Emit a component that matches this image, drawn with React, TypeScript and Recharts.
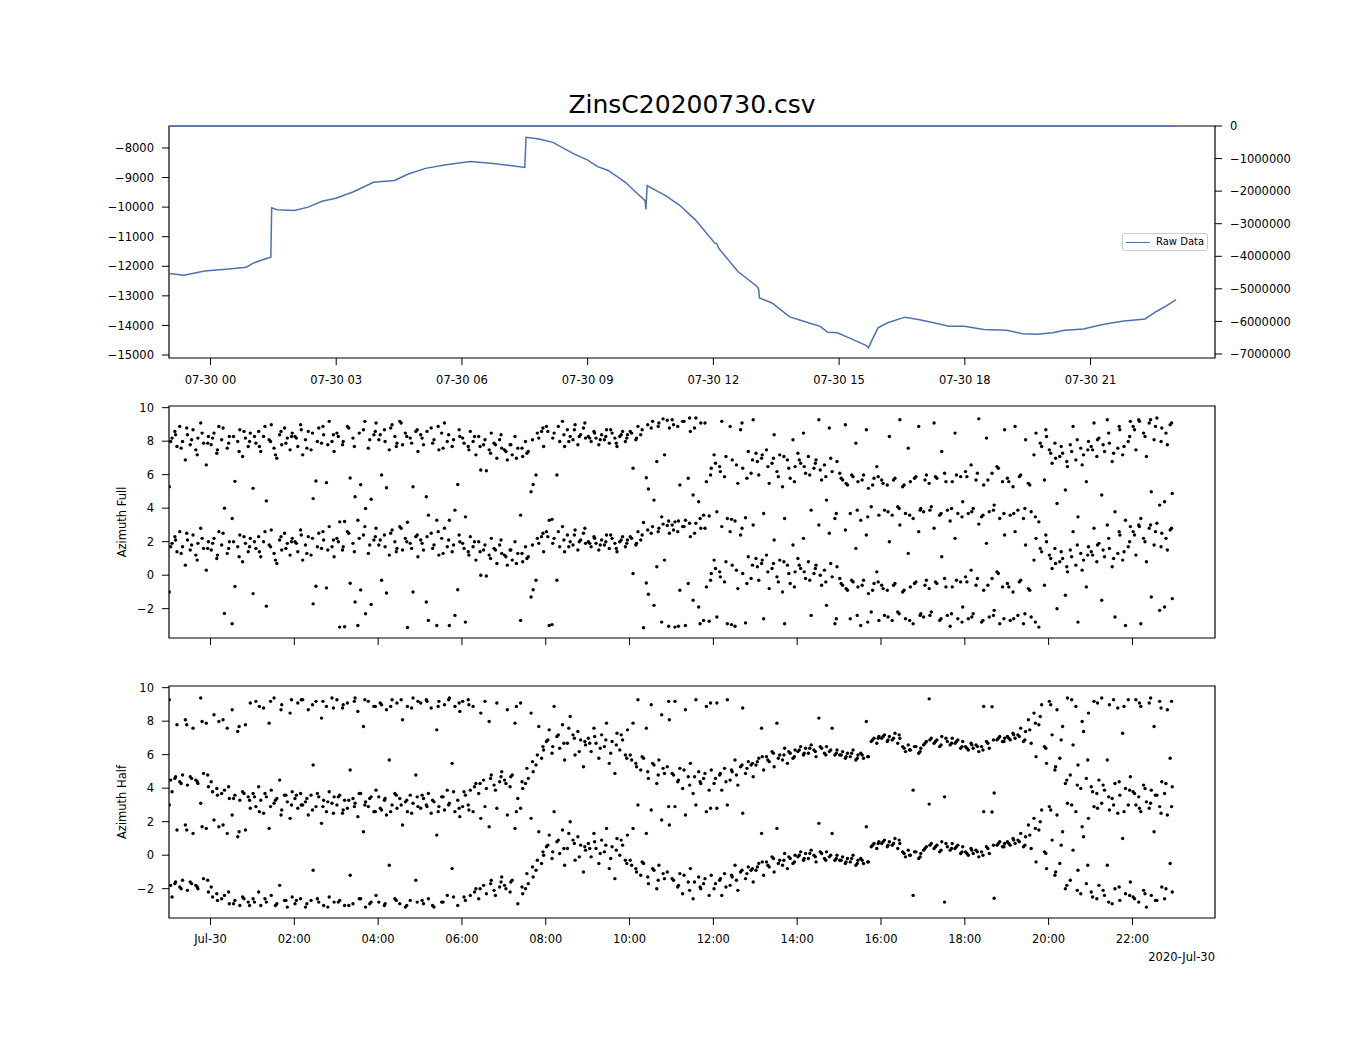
import { ComposedChart, ScatterChart, Line, Scatter, XAxis, YAxis, ReferenceArea } from 'recharts'

const FONT = '"DejaVu Sans", Verdana, sans-serif'
const BLUE = '#4c72b0'
const MINUS = '\u2212'

// top panel, hours relative to 07-30 00:00
const rawHours = [
  -0.99, -0.63, -0.14, 0.44, 0.85, 1.01, 1.26, 1.44, 1.46, 1.59, 2.0, 2.33, 2.66, 2.99, 3.4, 3.89,
  4.39, 4.72, 5.13, 5.62, 6.2, 6.69, 7.19, 7.5, 7.53, 7.84, 8.17, 8.67, 8.99, 9.24, 9.49, 9.9,
  10.19, 10.37, 10.39, 10.42, 10.56, 10.85, 11.19, 11.57, 12.03, 12.08, 12.12, 12.58, 13.04, 13.08, 13.1, 13.4,
  13.82, 14.23, 14.55, 14.73, 14.96, 15.24, 15.65, 15.7, 15.79, 15.93, 16.16, 16.57, 16.89, 17.26, 17.62, 17.99,
  18.45, 19.0, 19.37, 19.73, 20.1, 20.38, 20.83, 21.29, 21.75, 22.3, 22.58, 22.8, 23.04,
]
const rawValues = [
  -12240, -12300, -12160, -12095, -12030, -11900, -11770, -11690, -10020, -10090, -10110, -10000, -9800, -9700, -9490, -9160,
  -9100, -8880, -8690, -8570, -8460, -8520, -8600, -8660, -7640, -7700, -7810, -8200, -8400, -8630, -8760, -9160,
  -9550, -9780, -10080, -9270, -9380, -9600, -9930, -10430, -11210, -11230, -11380, -12170, -12680, -12780, -13070, -13240,
  -13710, -13890, -14030, -14230, -14250, -14420, -14680, -14760, -14480, -14080, -13910, -13720, -13800, -13910, -14030, -14030,
  -14140, -14160, -14280, -14300, -14250, -14160, -14120, -13970, -13860, -13780, -13520, -13350, -13130,
]
// second trace, on the right axis
const secondHours = [-0.99, 23.04]
const secondValues = [0, 0]

// azimuth samples: one row per hour starting 23:00 on 07-29.
// minutes within the hour; the last eight are the in-between readings
const firstHour = -1
const sampleMinutes = [1, 5, 9, 12, 16, 20, 24, 27, 31, 35, 39, 42, 46, 50, 54, 57, 3, 10, 18, 26, 33, 41, 48, 56]

const fullAz = [
  [-1.0, 1.9, 2.3, 1.4, 2.6, 1.7, 0.6, 2.1, 1.5, 2.4, 1.2, 1.9, 2.8, 1.6, 0.3, 2.0, 1.7, 2.1, 1.3, 2.5, 1.8, 0.9, 2.2, 1.6],
  [1.5, 2.2, 1.0, 2.6, 1.8, -2.28, 1.3, 2.0, -2.9, -0.68, 1.7, 2.4, 0.8, 1.9, 1.4, 2.2, 1.9, 1.2, 2.5, 1.6, 2.0, 1.1, 2.3, 1.7],
  [-1.1, 1.6, 2.3, 1.1, 2.0, -1.85, 1.8, 2.7, 1.3, 0.7, 2.1, 1.5, 2.5, 1.9, 1.2, 2.2, 2.0, 1.4, 2.6, 1.7, 0.9, 2.3, 1.6, 2.0],
  [2.0, 1.4, 2.7, 0.9, 1.8, 2.3, 1.2, -1.71, -0.66, 2.5, 1.6, 2.1, -0.76, 2.9, 1.7, 1.1, 1.9, 2.4, 1.3, 2.2, 1.7, 2.6, 1.5, 2.1],
  [2.2, -3.1, 1.5, -3.08, 2.6, -0.48, 1.9, -1.6, -3.0, -0.88, 2.4, -2.3, 1.3, -1.75, 2.1, 2.8, 2.0, 1.7, 2.5, 1.4, 2.2, 2.9, 1.8, 2.3],
  [1.8, -0.3, 2.4, -1.06, 1.2, 2.7, 2.0, 1.6, 2.9, 1.5, 2.2, -3.12, 1.9, -1.0, 2.3, 1.1, 2.1, 1.7, 2.5, 1.4, 2.8, 2.0, 1.6, 2.4],
  [2.1, 1.5, -1.6, -2.7, 2.5, 1.8, -3.0, 1.2, 2.2, 2.8, 1.7, -3.0, 1.4, -2.4, -0.87, 2.0, 1.9, 2.3, 1.6, 2.6, 1.3, 2.1, 1.8, 2.4],
  [1.9, -2.8, 1.4, 2.3, 1.7, 0.9, 2.0, 0.0, 1.5, -0.05, 1.2, 2.2, 1.6, 0.7, 1.8, 1.3, 1.6, 1.2, 2.0, 1.4, 1.8, 1.0, 1.5, 2.1],
  [1.2, 0.6, 1.5, 0.9, 2.0, 1.3, -2.7, 0.8, 1.7, 1.1, -1.3, -0.87, -0.3, 1.9, 2.3, 1.4, 1.1, 1.5, 0.7, 1.3, 1.0, 1.8, 2.2, 2.5],
  [2.6, -3.0, -2.95, 2.2, -0.3, 1.7, 2.9, 1.4, 2.4, 2.0, 1.8, 2.7, 1.5, 2.1, 2.5, 1.9, 2.3, 1.9, 2.6, 2.1, 1.7, 2.4, 2.0, 2.8],
  [2.0, 1.7, 2.3, 1.9, 1.5, 2.1, 1.8, 2.4, 1.6, 2.2, 1.9, 1.4, 2.0, 2.3, 1.7, 2.1, 1.9, 2.2, 1.8, 2.0, 2.4, 1.6, 2.1, 1.9],
  [2.3, 0.1, 1.8, 2.6, 2.1, -3.14, -0.47, -1.14, 2.5, -1.8, 0.5, 2.8, -2.8, 0.9, 2.97, 2.5, 2.2, 1.9, 2.4, 2.7, 2.9, 2.6, 3.05, -3.05],
  [3.0, -3.1, 2.6, -0.9, 2.9, -3.0, -0.5, 2.3, -1.5, 3.1, -1.9, 2.8, -2.7, -0.7, -2.75, 0.1, 2.7, -3.05, 2.9, 3.1, 2.5, -2.9, 2.8, -0.3],
  [0.9, -2.5, 0.2, 2.9, -0.4, -2.9, 2.6, 0.6, -3.05, -0.8, 2.4, 0.1, -2.85, 1.1, -0.2, 3.0, 0.4, -0.1, 0.8, -2.95, 0.3, 2.8, -0.5, 0.6],
  [1.0, -0.3, 0.7, -2.6, 1.2, -0.8, 0.4, 2.1, -0.1, 0.9, -1.0, -2.9, 0.6, -0.5, 1.8, 0.2, 0.5, 0.9, 0.2, 0.7, -0.4, 0.8, 0.1, -0.7],
  [1.0, 0.4, 2.2, -0.2, 0.8, -2.4, 0.1, 0.6, 3.0, -0.6, 0.3, -1.8, 2.5, -0.1, -2.9, 0.5, 0.6, 0.2, -0.3, 0.4, 0.0, -0.4, 0.7, -2.6],
  [-0.2, -0.6, 2.7, -0.9, -2.6, -0.4, 1.6, -0.7, -3.0, -0.3, 2.4, -1.1, -2.2, -0.5, 0.2, -2.7, -0.5, -0.8, -0.3, -2.4, -0.6, -2.8, -0.9, -0.4],
  [-0.6, -2.4, -0.9, 2.0, -2.7, -0.5, -2.2, 3.0, -1.0, -2.6, 1.3, -0.7, -2.9, -0.4, 2.6, -2.3, -0.8, -2.5, -0.6, -2.3, -0.9, -2.7, -0.5, -2.4],
  [-2.5, -0.3, -0.8, -2.2, 2.8, -0.5, -2.7, 1.1, -0.2, -2.4, -3.05, -0.7, 2.2, -2.6, -0.4, -1.9, -0.6, -2.4, -0.4, -2.6, -0.7, -2.3, -0.3, -2.8],
  [-0.1, -2.6, 0.3, -2.3, -0.6, 3.05, -2.8, -0.9, 1.9, -2.5, -0.2, -2.1, 0.2, -2.9, -0.7, 2.4, -0.4, -2.5, -0.2, -2.7, -0.6, -2.4, 0.1, -2.6],
  [-0.5, -2.7, -1.0, 2.6, -2.4, -0.3, -2.9, 1.8, -0.8, -2.5, 0.9, 2.2, -3.1, 1.4, -0.6, 2.0, -0.7, -2.6, -0.4, -2.3, -0.9, -2.8, 1.6, 2.4],
  [1.2, 0.4, 1.6, -2.0, 0.8, 1.0, -1.2, 0.2, 1.5, 2.6, 0.6, -2.8, 1.3, 0.9, -0.7, 1.7, 1.0, 0.7, 1.4, 0.5, 1.1, 1.8, 0.3, 1.2],
  [1.4, 2.8, 0.8, 1.9, -1.5, 1.1, 3.0, 1.6, 0.5, -2.5, 1.3, 2.4, 0.9, -3.0, 1.7, 2.9, 1.2, 1.8, 1.5, 2.2, 1.0, 2.6, 1.4, 2.0],
  [2.6, 1.2, 3.0, -2.9, 2.2, 0.8, 2.8, -1.3, 1.8, 3.1, -2.1, 2.5, -1.9, 1.5, 2.7, -1.4, 2.4, 2.9, 2.0, 3.0, 2.6, 1.7, 2.2, 2.8],
]

const halfAz = [
  [3.0, -2.5, -1.7, 1.5, -1.9, -1.5, 1.8, -2.1, -1.6, 1.3, -1.8, -2.0, 3.1, -1.4, 1.6, -2.2, -1.8, -1.6, -2.0, 1.5, -1.7, -1.9, 1.7, -1.5],
  [-1.9, 2.1, -2.3, 1.7, -2.6, -2.4, 1.3, -2.9, 2.4, -2.7, 1.1, -3.0, -2.5, 1.5, -2.8, 2.8, -2.5, -2.7, 1.8, -2.2, -2.9, 1.4, -2.6, -3.0],
  [-2.6, 2.9, -2.2, -3.0, 2.5, -2.8, 1.6, -2.4, 3.1, -2.9, -1.8, 2.7, -2.7, -3.1, 2.2, -2.5, -2.8, 2.6, -2.6, 2.9, -3.0, 2.4, -2.7, 3.0],
  [-2.9, 2.8, -2.6, 3.0, -3.1, 2.4, -2.7, -0.9, 2.9, -2.8, 1.9, -3.0, 2.6, -2.5, 3.1, -2.8, -2.7, 3.0, -2.9, 2.7, -2.6, 2.9, -3.1, 2.5],
  [3.0, -2.7, 2.5, -3.0, 2.8, -1.2, -2.9, 3.1, 2.3, -2.6, 1.4, -3.1, 2.9, -2.8, 2.6, -2.4, -2.8, 2.7, -3.0, 2.9, -2.6, 3.0, -2.9, 2.6],
  [-2.8, 2.7, -3.0, 2.4, -0.6, 3.0, -2.6, 2.8, -2.9, 1.8, -3.1, 2.6, -2.7, 3.1, -1.5, 2.9, 2.8, -2.9, 2.6, -2.7, 3.0, -3.0, 2.5, -2.8],
  [2.8, -2.9, 3.0, -2.6, 2.5, -3.1, 1.2, 2.9, -2.8, 2.7, -2.4, 3.1, -0.8, 2.6, -3.0, 2.3, -2.7, 2.9, -3.0, 2.6, -2.8, 3.0, -2.5, 2.8],
  [2.9, -2.7, 3.0, -2.4, 2.6, -2.0, -2.6, 2.2, -1.8, -2.3, 1.7, -1.5, -2.1, 2.8, -1.9, -1.3, -2.5, 2.7, -2.2, -2.0, 2.9, -1.7, -2.4, -1.6],
  [-1.8, 2.4, -2.2, -1.5, 1.6, -2.9, 2.8, -2.3, -2.0, -1.7, 2.2, -1.3, -0.9, 1.4, -0.5, 0.0, -2.0, -1.6, 2.6, -1.9, -1.1, -0.7, -0.3, 0.2],
  [0.5, 1.2, -0.2, 2.6, 0.8, 0.1, 1.5, -0.6, 0.4, 2.0, 0.9, -0.3, 1.1, 0.6, -1.0, 0.3, 0.6, 0.2, 0.9, 0.4, 1.3, 0.7, -0.1, 0.5],
  [0.7, -0.1, 1.3, 0.4, -0.5, 0.9, 0.2, 1.6, -0.8, 0.5, -1.4, 1.0, 0.0, 0.6, -0.3, 1.2, 0.4, 0.8, 0.1, 0.6, -0.2, 0.3, 0.9, -0.5],
  [-0.3, 1.6, -0.8, 3.0, -1.2, -0.5, 1.3, -1.7, 2.7, -0.9, -2.0, -0.6, 2.1, -1.4, -1.0, 1.8, -0.6, -1.0, -0.4, -1.3, -0.8, -1.5, -1.1, 2.9],
  [-1.4, 2.9, -1.9, -1.1, -2.3, 2.4, -1.6, -0.8, -2.6, 3.0, -1.3, -2.0, -1.7, 2.6, -2.4, -1.2, -1.5, -1.8, -1.2, -2.1, -1.6, -1.9, -1.4, 2.8],
  [-2.0, 2.8, -1.5, -2.4, -1.1, 3.0, -1.8, -1.3, -0.6, -2.1, -1.0, 2.5, -1.4, -0.7, -0.9, -1.6, -1.7, -1.4, -1.9, -1.2, -1.5, -0.9, -1.1, -0.8],
  [-0.9, -0.5, 1.3, -1.2, -0.4, -0.7, -0.1, -1.0, 1.6, -0.3, -0.6, 0.1, -0.8, -0.2, -0.5, 0.0, -0.7, -0.4, -0.6, -0.2, -0.5, -0.3, -0.1, -0.4],
  [-0.1, 0.2, -0.3, 0.1, -0.2, 0.3, 0.0, -0.4, 1.9, 0.1, -0.2, 0.2, -0.1, 1.3, -0.3, 0.0, 0.0, -0.2, 0.1, -0.1, 0.2, -0.3, 0.0, -0.2],
  [-0.3, -0.1, -0.5, -0.2, -0.4, 0.0, -0.6, -0.3, -0.2, -0.5, 1.7, -0.4, 0.5, 0.7, 0.4, 0.8, -0.3, -0.4, -0.2, -0.5, -0.3, -0.4, 0.6, 0.7],
  [0.7, 0.9, 0.5, 0.8, 0.6, 1.0, 0.4, 0.7, 0.2, -0.1, 0.3, 0.0, -2.4, 0.2, -0.2, 0.1, 0.8, 0.6, 0.7, 0.9, 0.1, 0.0, 0.2, -0.1],
  [0.3, 0.5, 3.05, 0.7, 0.4, 0.6, 0.2, 0.8, -2.8, 0.5, 0.3, 0.7, 0.4, 0.6, 0.1, 0.5, 0.4, 0.6, 0.5, 0.3, 0.7, 0.4, 0.5, 0.2],
  [0.2, 0.0, 0.4, 0.1, 0.3, -0.1, 0.2, 2.6, 0.5, 0.1, 2.58, -2.57, 0.6, 0.8, 0.5, 0.7, 0.1, 0.3, 0.2, 0.0, 0.4, 0.6, 0.7, 0.5],
  [0.8, 0.6, 1.0, 0.7, 0.9, 1.3, 0.5, 1.1, 1.8, 0.4, 2.2, -0.4, 1.5, 2.7, 0.2, -0.8, 0.7, 0.9, 0.8, 0.6, 1.2, 1.6, 2.0, 0.1],
  [2.9, 0.9, -1.2, 2.4, -0.5, 1.4, -2.0, 3.1, -1.5, 0.3, 2.6, -0.9, -2.3, 1.1, -1.7, 2.2, 2.7, -1.0, 0.6, -1.8, 3.0, -2.1, 1.7, -0.6],
  [-2.2, 2.9, -2.6, -1.8, 3.1, -2.4, -0.6, 2.7, -2.9, -2.0, 2.5, -2.7, 1.0, -2.3, 3.0, -1.6, -2.5, 2.8, -2.1, -2.8, 3.0, -1.9, 2.6, -2.4],
  [-2.5, 3.0, -2.8, 2.6, -2.1, -3.1, 2.8, -2.4, 1.4, -2.7, 2.9, -1.9, -2.6, 2.4, -0.5, -2.2, -2.6, 2.8, -2.3, 3.1, -2.7, 2.5, -2.0, 2.9],
]

const rawTicks = [-15000, -14000, -13000, -12000, -11000, -10000, -9000, -8000]
const secondTicks = [0, -1000000, -2000000, -3000000, -4000000, -5000000, -6000000, -7000000]
const rawHourTicks = [0, 3, 6, 9, 12, 15, 18, 21]
const azHourTicks = [0, 2, 4, 6, 8, 10, 12, 14, 16, 18, 20, 22]
const azTicks = [-2, 0, 2, 4, 6, 8, 10]

const X_DOMAIN: [number, number] = [-0.99, 23.97]
const RAW_DOMAIN: [number, number] = [-15101, -7257]
const SECOND_DOMAIN: [number, number] = [-7123000, 0]
const AZ_DOMAIN: [number, number] = [-3.75, 10.1]

const rawRows = rawHours.map((t, i) => ({ t, raw: rawValues[i] }))
const secondRows = secondHours.map((t, i) => ({ t, v: secondValues[i] }))

// each angle is plotted twice, one full turn apart
const TURN = 2 * Math.PI
function azPoints(rows: number[][]) {
  const pts: { t: number; v: number }[] = []
  rows.forEach((row, i) =>
    row.forEach((v, j) => {
      const t = firstHour + i + sampleMinutes[j] / 60
      pts.push({ t, v }, { t, v: v + TURN })
    })
  )
  return pts
}
const fullPoints = azPoints(fullAz)
const halfPoints = azPoints(halfAz)

const pad = (h: number) => String(h).padStart(2, '0')
const fmt = (v: number) => (v < 0 ? MINUS + Math.abs(v) : String(v))
const tickStyle = { fontSize: 11.5, fill: '#000', fontFamily: FONT }
const tickLine = { stroke: '#000', strokeWidth: 1 }
const axisCommon = { tick: tickStyle, tickLine, tickSize: 7, axisLine: false, interval: 0 as const }

const dot = (p: any) => <circle cx={p.cx} cy={p.cy} r={1.7} fill="#000" />

function AzPanel({ top, points, label, labels }: { top: number; points: { t: number; v: number }[]; label: string; labels: boolean }) {
  return (
    <>
      <div style={{ position: 'absolute', left: 0, top: top - 10 }}>
        <ScatterChart width={1350} height={272} margin={{ top: 10, right: 135, bottom: 0, left: 0 }}>
          <XAxis
            dataKey="t"
            type="number"
            domain={X_DOMAIN}
            allowDataOverflow
            ticks={azHourTicks}
            tickFormatter={(h: number) => (labels ? (h === 0 ? 'Jul-30' : `${pad(h)}:00`) : '')}
            height={30}
            tickMargin={10}
            {...axisCommon}
          />
          <YAxis
            dataKey="v"
            type="number"
            domain={AZ_DOMAIN}
            allowDataOverflow
            ticks={azTicks}
            tickFormatter={fmt}
            width={169}
            tickMargin={8}
            {...axisCommon}
          />
          <Scatter data={points} dataKey="v" fill="#000" shape={dot} isAnimationActive={false} />
          <ReferenceArea x1={X_DOMAIN[0]} x2={X_DOMAIN[1]} y1={AZ_DOMAIN[0]} y2={AZ_DOMAIN[1]} fill="none" stroke="#000" strokeWidth={1.2} ifOverflow="visible" />
        </ScatterChart>
      </div>
      <div
        style={{
          position: 'absolute',
          left: 122,
          top: top + 116,
          transform: 'translate(-50%, -50%) rotate(-90deg)',
          fontSize: 11.5,
          whiteSpace: 'nowrap',
        }}
      >
        {label}
      </div>
    </>
  )
}

export default function App() {
  return (
    <div style={{ position: 'absolute', left: 0, top: 0, width: 1350, height: 1050, background: '#fff', fontFamily: FONT, color: '#000' }}>
      <div style={{ position: 'absolute', left: 169, top: 91, width: 1046, textAlign: 'center', fontSize: 25, lineHeight: '28px' }}>
        ZinsC20200730.csv
      </div>

      <div style={{ position: 'absolute', left: 0, top: 116 }}>
        <ComposedChart width={1350} height={272} data={rawRows} margin={{ top: 10, right: 0, bottom: 0, left: 0 }}>
          <XAxis
            dataKey="t"
            type="number"
            domain={X_DOMAIN}
            allowDataOverflow
            ticks={rawHourTicks}
            tickFormatter={(h: number) => `07-30 ${pad(h)}`}
            height={30}
            tickMargin={11}
            {...axisCommon}
          />
          <YAxis yAxisId="raw" type="number" domain={RAW_DOMAIN} allowDataOverflow ticks={rawTicks} tickFormatter={fmt} width={169} tickMargin={8} {...axisCommon} />
          <YAxis
            yAxisId="second"
            orientation="right"
            type="number"
            domain={SECOND_DOMAIN}
            allowDataOverflow
            ticks={secondTicks}
            tickFormatter={fmt}
            width={135}
            tickMargin={8}
            {...axisCommon}
          />
          <Line yAxisId="raw" dataKey="raw" stroke={BLUE} strokeWidth={1.5} dot={false} isAnimationActive={false} />
          <Line yAxisId="second" data={secondRows} dataKey="v" stroke={BLUE} strokeWidth={1.5} dot={false} isAnimationActive={false} />
          <ReferenceArea yAxisId="raw" x1={X_DOMAIN[0]} x2={X_DOMAIN[1]} y1={RAW_DOMAIN[0]} y2={RAW_DOMAIN[1]} fill="none" stroke="#000" strokeWidth={1.2} ifOverflow="visible" />
        </ComposedChart>
      </div>

      <div
        style={{
          position: 'absolute',
          left: 1122,
          top: 233,
          width: 84,
          height: 16,
          border: '1px solid #ccc',
          borderRadius: 3,
          background: 'rgba(255,255,255,0.8)',
          fontSize: 10,
        }}
      >
        <div style={{ position: 'absolute', left: 3, top: 7.5, width: 24, height: 1.5, background: BLUE }} />
        <div style={{ position: 'absolute', left: 33, top: 1, lineHeight: '14px', whiteSpace: 'nowrap' }}>Raw Data</div>
      </div>

      <AzPanel top={406} points={fullPoints} label="Azimuth Full" labels={false} />
      <AzPanel top={686} points={halfPoints} label="Azimuth Half" labels />

      <div style={{ position: 'absolute', left: 1015, top: 950, width: 200, textAlign: 'right', fontSize: 11.5, lineHeight: '14px' }}>
        2020-Jul-30
      </div>
    </div>
  )
}
